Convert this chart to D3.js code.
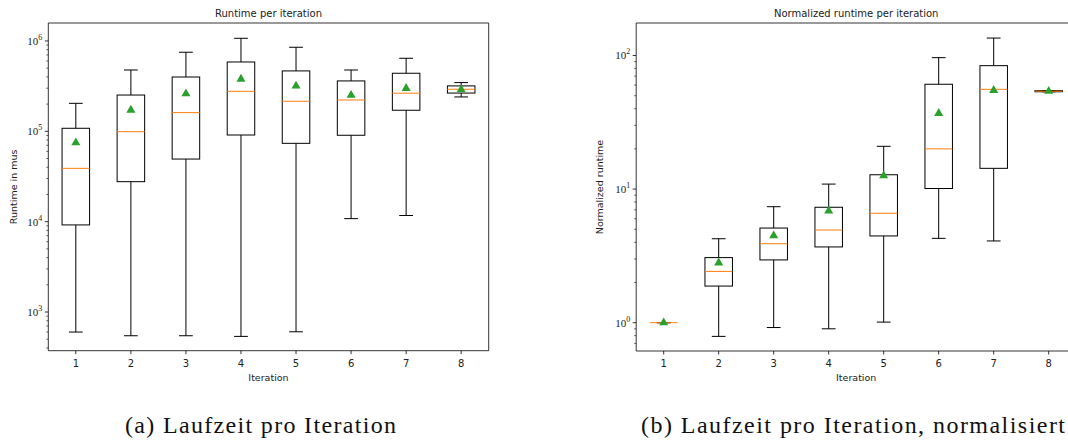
<!DOCTYPE html>
<html><head><meta charset="utf-8">
<script src="https://cdn.jsdelivr.net/npm/d3@7/dist/d3.min.js"></script>
<style>
body{margin:0;background:#fff;}
svg{display:block;}
</style></head>
<body>
<svg id="chart" width="1068" height="442"></svg>
<script>
const iterations = [1,2,3,4,5,6,7,8];
// Runtime per iteration (mus)
const rtWhiskLow = [600, 546, 546, 537, 604, 10800, 11700, 240000];
const rtQ1       = [9200, 27700, 49300, 91000, 73600, 90400, 171000, 265000];
const rtMedian   = [38900, 99000, 161000, 277000, 215000, 222000, 264000, 292000];
const rtQ3       = [108000, 252000, 399000, 585000, 466000, 361000, 439000, 318000];
const rtWhiskHigh= [204000, 477000, 750000, 1070000, 851000, 477000, 643000, 346000];
const rtMean     = [74800, 172000, 261000, 379000, 318000, 251000, 299000, 290000];
// Normalized runtime
const nWhiskLow = [1.0, 0.79, 0.92, 0.90, 1.01, 4.28, 4.09, 53.5];
const nQ1       = [1.0, 1.88, 2.95, 3.69, 4.46, 10.1, 14.3, 53.5];
const nMedian   = [1.0, 2.42, 3.90, 4.94, 6.59, 20.0, 55.8, 54.0];
const nQ3       = [1.0, 3.07, 5.11, 7.31, 12.8, 60.9, 83.9, 54.5];
const nWhiskHigh= [1.0, 4.25, 7.38, 10.9, 20.9, 96.3, 135, 54.5];
const nMean     = [1.0, 2.81, 4.48, 6.86, 12.6, 36.9, 54.9, 54.0];

const titles = ["Runtime per iteration", "Normalized runtime per iteration"];
const yLabels = ["Runtime in mus", "Normalized runtime"];
const xLabel = "Iteration";
const captions = ["(a) Laufzeit pro Iteration", "(b) Laufzeit pro Iteration, normalisiert"];

const svg = d3.select("#chart");

function panel(cfg){
  const {x0,x1,y0,y1,yDomain,data,title,ylab,majors,ylabX} = cfg;
  const g = svg.append("g");
  const x = d3.scaleLinear().domain([0.5,8.5]).range([x0,x1]);
  const y = d3.scaleLog().domain(yDomain).range([y1,y0]);
  const bw = x(1.25)-x(1);
  const cw = x(1.125)-x(1);
  // minor ticks
  const minors = [];
  const lo = Math.floor(Math.log10(yDomain[0])), hi = Math.ceil(Math.log10(yDomain[1]));
  for(let e=lo;e<=hi;e++){ for(let m=2;m<=9;m++){ const v=m*Math.pow(10,e); if(v>=yDomain[0]&&v<=yDomain[1]) minors.push(v);} }
  g.selectAll(".mnt").data(minors).enter().append("line")
    .attr("x1",x0).attr("x2",x0-2).attr("y1",d=>y(d)).attr("y2",d=>y(d))
    .attr("stroke","#000").attr("stroke-width",0.6);
  g.selectAll(".mjt").data(majors).enter().append("line")
    .attr("x1",x0).attr("x2",x0-3.5).attr("y1",d=>y(d)).attr("y2",d=>y(d))
    .attr("stroke","#000").attr("stroke-width",0.8);
  const lbl = g.selectAll(".mjl").data(majors).enter().append("text")
    .attr("x",x0-6).attr("y",d=>y(d)+4)
    .attr("text-anchor","end").attr("font-family","'Liberation Serif','DejaVu Serif',serif")
    .attr("font-size",11).attr("fill","#222");
  lbl.append("tspan").text("10");
  lbl.append("tspan").attr("dy",-5).attr("font-size",8).text(d=>String(Math.round(Math.log10(d))));
  // x ticks
  g.selectAll(".xt").data(iterations).enter().append("line")
    .attr("x1",d=>x(d)).attr("x2",d=>x(d)).attr("y1",y1).attr("y2",y1+3.5)
    .attr("stroke","#000").attr("stroke-width",0.8);
  g.selectAll(".xtl").data(iterations).enter().append("text")
    .attr("x",d=>x(d)).attr("y",y1+16).attr("text-anchor","middle")
    .attr("font-family","'DejaVu Sans',sans-serif").attr("font-size",10).attr("fill","#222")
    .text(d=>d);
  // boxes
  const items = iterations.map((it,i)=>({it,lw:data.lw[i],q1:data.q1[i],med:data.med[i],q3:data.q3[i],hw:data.hw[i],mean:data.mean[i]}));
  const b = g.selectAll(".box").data(items).enter().append("g");
  b.append("line").attr("x1",d=>x(d.it)).attr("x2",d=>x(d.it)).attr("y1",d=>y(d.q1)).attr("y2",d=>y(d.lw)).attr("stroke","#000").attr("stroke-width",1);
  b.append("line").attr("x1",d=>x(d.it)).attr("x2",d=>x(d.it)).attr("y1",d=>y(d.q3)).attr("y2",d=>y(d.hw)).attr("stroke","#000").attr("stroke-width",1);
  b.append("line").attr("x1",d=>x(d.it)-cw).attr("x2",d=>x(d.it)+cw).attr("y1",d=>y(d.lw)).attr("y2",d=>y(d.lw)).attr("stroke","#000").attr("stroke-width",1);
  b.append("line").attr("x1",d=>x(d.it)-cw).attr("x2",d=>x(d.it)+cw).attr("y1",d=>y(d.hw)).attr("y2",d=>y(d.hw)).attr("stroke","#000").attr("stroke-width",1);
  b.append("rect").attr("x",d=>x(d.it)-bw).attr("width",2*bw)
    .attr("y",d=>y(d.q3)).attr("height",d=>Math.max(0,y(d.q1)-y(d.q3)))
    .attr("fill","none").attr("stroke","#000").attr("stroke-width",1);
  b.append("line").attr("x1",d=>x(d.it)-bw).attr("x2",d=>x(d.it)+bw).attr("y1",d=>y(d.med)).attr("y2",d=>y(d.med)).attr("stroke","#ff7f0e").attr("stroke-width",1);
  b.append("path").attr("d",d3.symbol().type(d3.symbolTriangle).size(36))
    .attr("transform",d=>`translate(${x(d.it)},${y(d.mean)})`).attr("fill","#2ca02c");
  // spines
  g.append("line").attr("x1",x0).attr("x2",x0).attr("y1",y0).attr("y2",y1).attr("stroke","#000").attr("stroke-width",0.8);
  g.append("line").attr("x1",x0).attr("x2",x1).attr("y1",y1).attr("y2",y1).attr("stroke","#000").attr("stroke-width",0.8);
  g.append("line").attr("x1",x0).attr("x2",x1).attr("y1",y0).attr("y2",y0).attr("stroke","#000").attr("stroke-width",0.8);
  g.append("line").attr("x1",x1).attr("x2",x1).attr("y1",y0).attr("y2",y1).attr("stroke","#000").attr("stroke-width",0.8);
  // title, labels
  g.append("text").attr("x",(x0+x1)/2).attr("y",y0-6).attr("text-anchor","middle")
    .attr("font-family","'DejaVu Sans',sans-serif").attr("font-size",10).attr("fill","#222").text(title);
  g.append("text").attr("x",x(4.5)).attr("y",y1+30).attr("text-anchor","middle")
    .attr("font-family","'DejaVu Sans',sans-serif").attr("font-size",9.5).attr("fill","#222").text(xLabel);
  g.append("text").attr("transform",`translate(${ylabX},${(y0+y1)/2}) rotate(-90)`).attr("text-anchor","middle")
    .attr("font-family","'DejaVu Sans',sans-serif").attr("font-size",9.5).attr("fill","#222").text(ylab);
}

panel({x0:48.3,x1:488.7,y0:23,y1:350.7,yDomain:[373,1.58e6],
  data:{lw:rtWhiskLow,q1:rtQ1,med:rtMedian,q3:rtQ3,hw:rtWhiskHigh,mean:rtMean},
  title:titles[0],ylab:yLabels[0],majors:[1e3,1e4,1e5,1e6],ylabX:17});
panel({x0:636.2,x1:1076.2,y0:23,y1:351,yDomain:[0.614,175],
  data:{lw:nWhiskLow,q1:nQ1,med:nMedian,q3:nQ3,hw:nWhiskHigh,mean:nMean},
  title:titles[1],ylab:yLabels[1],majors:[1,10,100],ylabX:603});

svg.append("text").attr("x",125).attr("y",433)
  .attr("textLength",271).attr("lengthAdjust","spacing")
  .attr("font-family","'Liberation Serif',serif").attr("font-size",24).attr("fill","#111").text(captions[0]);
svg.append("text").attr("x",641).attr("y",433)
  .attr("textLength",424).attr("lengthAdjust","spacing")
  .attr("font-family","'Liberation Serif',serif").attr("font-size",24).attr("fill","#111").text(captions[1]);
</script>
</body></html>
